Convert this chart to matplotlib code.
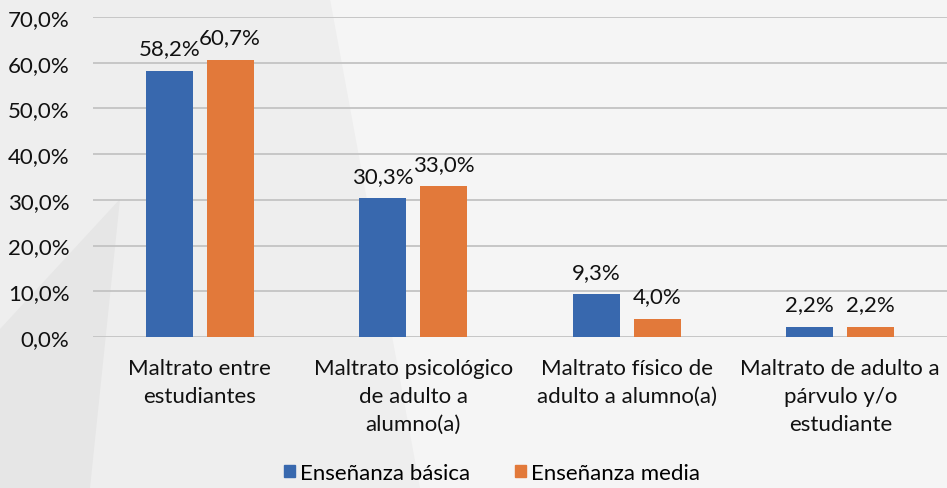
import matplotlib
matplotlib.use("Agg")
import matplotlib.pyplot as plt
from matplotlib.patches import Polygon, Patch
import numpy as np

categories = ["Maltrato entre\nestudiantes",
              "Maltrato psicológico\nde adulto a\nalumno(a)",
              "Maltrato físico de\nadulto a alumno(a)",
              "Maltrato de adulto a\npárvulo y/o\nestudiante"]
series_names = ["Enseñanza básica", "Enseñanza media"]
basica = [58.2, 30.3, 9.3, 2.2]
media = [60.7, 33.0, 4.0, 2.2]
yticks = [0, 10, 20, 30, 40, 50, 60, 70]

colors = ["#3868AE", "#E2793A"]

plt.rcParams['font.family'] = ['Lato', 'DejaVu Sans']
FS = 16

fig = plt.figure(figsize=(9.47, 4.89), dpi=100)
fig.patch.set_facecolor("#eeeeee")

# subtle background shapes
bg = fig.add_axes([0, 0, 1, 1], zorder=-10)
bg.set_xlim(0, 947); bg.set_ylim(489, 0); bg.axis("off")
bg.add_patch(Polygon([[330, 0], [947, 0], [947, 489], [420, 489]], closed=True, color="#f5f5f5", lw=0))
bg.add_patch(Polygon([[0, 330], [120, 200], [90, 489], [0, 489]], closed=True, color="#e6e6e6", lw=0))

ax = fig.add_axes([93/947, 1-338/489, 1-93/947, (338-18)/489])
ax.set_facecolor("none")

x = np.arange(len(categories))
w = 0.22
off = 0.1425
b1 = ax.bar(x - off, basica, w, color=colors[0], label=series_names[0], zorder=3)
b2 = ax.bar(x + off, media, w, color=colors[1], label=series_names[1], zorder=3)

for bars, vals in ((b1, basica), (b2, media)):
    for r, v in zip(bars, vals):
        ax.annotate(f"{v:.1f}%".replace(".", ","),
                    (r.get_x() + r.get_width()/2, v),
                    xytext=(0, 9), textcoords="offset points",
                    ha="center", va="bottom", fontsize=FS, color="#111111")

ax.set_xlim(-0.5, 3.5)
ax.set_ylim(0, 70)
ax.set_yticks(yticks)
ax.set_yticklabels([f"{t:.1f}%".replace(".", ",") for t in yticks], fontsize=FS, color="#111111")
ax.set_xticks(x)
ax.set_xticklabels(categories, fontsize=FS, color="#111111", linespacing=1.5, va="top")
ax.tick_params(axis="both", length=0)
ax.tick_params(axis="y", pad=17)
ax.tick_params(axis="x", pad=15)
ax.grid(axis="y", color="#c6c6c6", linewidth=1.4, zorder=0)
for s in ax.spines.values():
    s.set_visible(False)

handles = [Patch(color=colors[0]), Patch(color=colors[1])]
fig.legend(handles, series_names, loc="center", bbox_to_anchor=(492/947, 1-474/489),
           ncol=2, frameon=False, fontsize=FS, handlelength=0.5, handleheight=0.5,
           handletextpad=0.25, columnspacing=2.0)

fig.savefig("out.png", dpi=100, facecolor=fig.get_facecolor())
